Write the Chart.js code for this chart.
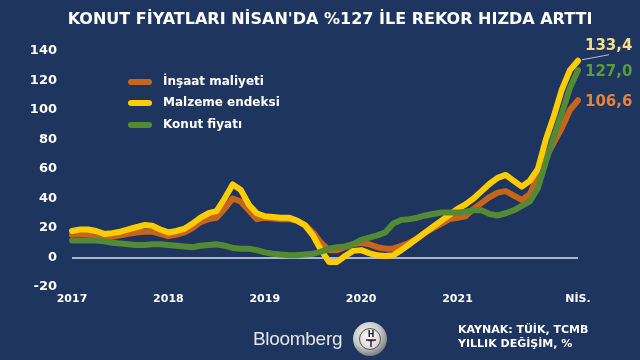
<!DOCTYPE html>
<html>
<head>
<meta charset="utf-8">
<script src="https://cdn.jsdelivr.net/npm/chart.js@4"></script>
<style>
  html, body { margin:0; padding:0; }
  body { width:640px; height:360px; background:#1d355f; position:relative; overflow:hidden; font-family:"DejaVu Sans", sans-serif; }
  #c { position:absolute; left:0; top:0; }
  .t { position:absolute; white-space:nowrap; font-weight:bold; }
  #title { left:0; width:660px; text-align:center; top:9px; color:#fff; font-size:16px; }
  .leg { position:absolute; left:128px; height:20px; }
  .leg i { position:absolute; left:0; top:7px; width:24px; height:6px; border-radius:3px; }
  .leg span { position:absolute; left:35px; top:2px; color:#fff; font-weight:bold; font-size:12px; white-space:nowrap; }
  .end { font-size:15px; left:585px; }
  #bb { position:absolute; left:253px; top:328px; color:#e6e6e6; font-family:"Liberation Sans", Arial, sans-serif; font-size:19px; letter-spacing:-0.3px; }
  #logo { position:absolute; left:353px; top:322px; width:34px; height:34px; border-radius:50%;
          background:radial-gradient(circle at 40% 35%, #f4f4f4 0%, #c9c9c9 45%, #7d7d7d 75%, #3a3a3a 100%); }
  #logo .in { position:absolute; left:6px; top:6px; width:22px; height:22px; border-radius:50%;
          background:radial-gradient(circle at 45% 40%, #ffffff 0%, #d7d7d7 70%, #9a9a9a 100%); border:1px solid #555; box-sizing:border-box; }
  #logo b { position:absolute; left:0; width:22px; text-align:center; font-family:"DejaVu Sans"; font-size:8px; color:#2a2a2a; line-height:8px; }
  #logo .bar { position:absolute; left:6px; top:10px; width:10px; height:2px; background:#c0272d; }
  .src { position:absolute; left:458px; color:#fff; font-weight:bold; font-size:11px; white-space:nowrap; }
</style>
</head>
<body>
<canvas id="c" width="640" height="360"></canvas>
<div id="title" class="t">KONUT FİYATLARI NİSAN'DA %127 İLE REKOR HIZDA ARTTI</div>

<div class="leg" style="top:72px"><i style="background:#c8651d"></i><span>İnşaat maliyeti</span></div>
<div class="leg" style="top:93px"><i style="background:#ffcc00"></i><span>Malzeme endeksi</span></div>
<div class="leg" style="top:115px"><i style="background:#548a33"></i><span>Konut fiyatı</span></div>

<div class="t end" id="lblY" style="top:36px;color:#f7df86">133,4</div>
<div class="t end" id="lblG" style="top:62px;color:#5c9a3c">127,0</div>
<div class="t end" id="lblO" style="top:92px;color:#e4823e">106,6</div>

<div id="bb">Bloomberg</div>
<div id="logo"><div class="in"><b style="top:2px">H</b><div class="bar"></div><b style="top:12px">T</b></div></div>
<div class="src" style="top:323px">KAYNAK: TÜİK, TCMB</div>
<div class="src" style="top:337px">YILLIK DEĞİŞİM, %</div>

<script>
// Monthly categories Jan 2017 .. Apr 2022
const months = [];
for (let y = 2017; y <= 2022; y++) {
  for (let m = 1; m <= 12; m++) {
    if (y === 2022 && m > 4) break;
    months.push(y + '-' + String(m).padStart(2, '0'));
  }
}
// Tick labels shown on the x axis
const xTickLabels = { '2017-01': '2017', '2018-01': '2018', '2019-01': '2019', '2020-01': '2020', '2021-01': '2021', '2022-04': 'NİS.' };
const yTicks = [-20, 0, 20, 40, 60, 80, 100, 120, 140];

// İnşaat maliyeti (construction cost), yearly % change
const insaatMaliyeti = [15.5,16,15.5,15,13.5,14,15,16,17,17.5,17.5,16,
  14.5,15.5,17,20,24,26,27,33,40,38,32,26,
  27,26.5,26,26,25,22,17,10,5,5,7,9,
  10,9,7,6,6,8,10,13,17,20,23,26,
  27,28,33,37,41,44,45,42,39,43,55,68,
  78,88,100,106.6];
// Malzeme endeksi (materials index), yearly % change
const malzemeEndeksi = [18,19,19,18,16,16.5,17.5,19,20.5,22,21.5,19,
  17,18,19.5,23,27,30,31.5,40,49.5,46,36,30,
  28,27.5,27,27,25,22,15,5,-3,-3,1,4.5,
  5,3,1.5,1,1.5,5,9,13,17,21,25,29,
  33,36,40,45,50,54,56,52,48,52,60,80,
  96,114,127,133.4];
// Konut fiyatı (house prices), yearly % change
const konutFiyati = [11.5,11.5,11.5,11.5,11,10,9.5,9,8.5,8.5,9,9,
  8.5,8,7.5,7,8,8.5,9,8,6.5,6,6,5,
  3.5,2.5,2,1.5,1.5,2,2.5,4,6,7,7.5,9,
  12,13.5,15,17,23,25.5,26,27,28.5,29.5,30.5,30.5,
  30.5,31,32,32,29.5,28.5,30,32,35,38,47,65,
  82,98,115,127];

const leaderPlugin = {
  id: 'leader',
  afterDatasetsDraw(chart) {
    const meta = chart.getDatasetMeta(1);
    const p = meta.data[meta.data.length - 1];
    const ctx = chart.ctx;
    ctx.save();
    ctx.strokeStyle = '#b9c3d3';
    ctx.lineWidth = 1;
    ctx.beginPath();
    ctx.moveTo(p.x + 4, p.y - 1);
    ctx.lineTo(p.x + 31, p.y - 6);
    ctx.stroke();
    ctx.restore();
  }
};

new Chart(document.getElementById('c'), {
  type: 'line',
  data: {
    labels: months,
    datasets: [
      { label: 'İnşaat maliyeti', data: insaatMaliyeti, borderColor: '#c8651d', order: 2 },
      { label: 'Malzeme endeksi', data: malzemeEndeksi, borderColor: '#ffcc00', order: 1 },
      { label: 'Konut fiyatı', data: konutFiyati, borderColor: '#548a33', order: 0 }
    ]
  },
  options: {
    responsive: false,
    animation: false,
    layout: { padding: { left: 0, right: 62, top: 51, bottom: 52 } },
    elements: {
      line: { borderWidth: 6, tension: 0, borderJoinStyle: 'round', borderCapStyle: 'round', fill: false },
      point: { radius: 0, hoverRadius: 0 }
    },
    plugins: { legend: { display: false }, tooltip: { enabled: false }, title: { display: false } },
    scales: {
      x: {
        type: 'category',
        offset: false,
        grid: { display: false, drawTicks: false },
        border: { display: false },
        afterFit(s) { s.height = 21; },
        ticks: {
          autoSkip: false, maxRotation: 0, minRotation: 0, padding: 6,
          color: '#ffffff',
          font: { family: 'DejaVu Sans', weight: 'bold', size: 11 },
          callback(v) { return xTickLabels[months[v]] || ''; }
        }
      },
      y: {
        min: -20, max: 140,
        afterFit(s) { s.width = 72; },
        afterBuildTicks(s) { s.ticks = yTicks.map(v => ({ value: v })); },
        border: { display: false },
        grid: {
          drawTicks: false,
          color: c => c.tick && c.tick.value === 0 ? '#a9b7cf' : 'rgba(0,0,0,0)',
          lineWidth: c => c.tick && c.tick.value === 0 ? 2 : 0
        },
        ticks: {
          padding: 15, color: '#ffffff',
          font: { family: 'DejaVu Sans', weight: 'bold', size: 13 }
        }
      }
    }
  },
  plugins: [leaderPlugin]
});
</script>
</body>
</html>
